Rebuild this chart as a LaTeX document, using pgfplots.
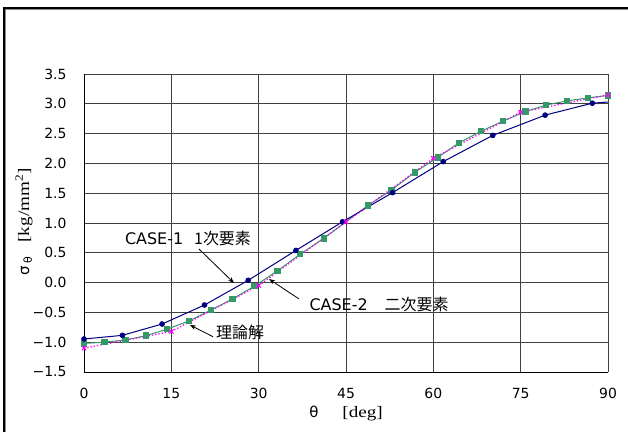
\documentclass[border=0pt]{standalone}
\usepackage{pgfplots}
\pgfplotsset{compat=1.18}
\usepackage{fontspec}
\setmainfont{DejaVu Sans}
\newfontfamily\jp{Noto Sans CJK JP}
\newfontfamily\mincho[FakeStretch=1.2]{Liberation Serif}
\usetikzlibrary{arrows.meta}
\definecolor{casenavy}{RGB}{0,0,128}
\definecolor{casegreen}{RGB}{51,153,102}
\definecolor{theomag}{RGB}{255,0,255}
\begin{document}
\begin{tikzpicture}[x=1bp,y=1bp]
\useasboundingbox (0,0) rectangle (628,432);
\fill[white] (0,0) rectangle (628,432);
\draw[black!45, line width=1.2bp] (5.5,0) -- (5.5,422.5) -- (628,422.5);
\draw[black, line width=1.2bp] (4,0) -- (4,424) -- (628,424);
\begin{axis}[
  at={(84bp,60bp)}, anchor=south west,
  scale only axis, width=524bp, height=298bp,
  xmin=0, xmax=90, ymin=-1.5, ymax=3.5,
  xtick={0,15,...,90}, ytick={-1.5,-1,...,3.5},
  yticklabels={−1.5,−1.0,−0.5,0.0,0.5,1.0,1.5,2.0,2.5,3.0,3.5},
  /pgf/number format/assume math mode=true,
  tick label style={font=\fontsize{14}{16}\selectfont},
  major tick length=0pt,
  xticklabel style={yshift=-13bp},
  yticklabel style={xshift=-14bp},
  grid=major,
  major grid style={black!75, line width=1bp},
  axis line style={black, line width=1bp},
  axis x line*=bottom, axis y line*=left,
  clip=false,
  xlabel={\fontsize{15}{17}\selectfont θ\hspace{24bp}{\mincho\fontsize{16}{18}\selectfont [deg]}},
  xlabel style={at={(rel axis cs:0.5,0)}, anchor=center, yshift=-41bp},
  ylabel={\fontsize{15}{17}\selectfont σ\raisebox{-0.35ex}{\fontsize{11}{12}\selectfont\hspace{3bp}θ}\hspace{14bp}{\mincho\fontsize{16}{18}\selectfont [kg/mm\textsuperscript{2}]}},
  ylabel style={at={(rel axis cs:0,0.5)}, anchor=center, yshift=60bp, xshift=1bp},
]
% CASE-2 (quadratic elements)
\addplot[casegreen, line width=1bp, mark=square*, mark size=2.7bp, mark options={solid, fill=casegreen}] coordinates {
(0,-1.02)(3.5,-1.00)(7.1,-0.963)(10.7,-0.89)(14.3,-0.78)(18,-0.645)(21.8,-0.46)
(25.5,-0.275)(29.3,-0.057)(33.2,0.195)(37.1,0.475)(41.2,0.743)(48.8,1.297)
(52.8,1.553)(56.8,1.85)(60.75,2.10)(64.4,2.345)(68.2,2.54)(72,2.71)(75.8,2.87)
(79.4,2.98)(83,3.05)(86.6,3.10)(90,3.14)
};
% CASE-1 (linear elements)
\addplot[casenavy, line width=1bp, mark=*, mark size=2.3bp, mark options={solid, fill=casenavy}] coordinates {
(0,-0.946)(6.6,-0.885)(13.4,-0.695)(20.7,-0.376)(28.2,0.038)(36.4,0.54)
(44.4,1.02)(53,1.51)(61.7,2.03)(70.2,2.47)(79.2,2.81)(87.3,3.01)
};
\addplot[casenavy, line width=1bp, no marks] coordinates {(87.3,3.01)(90,3.03)};
% theory
\addplot[theomag, line width=1.3bp, dotted, mark=x, mark size=3bp, mark options={solid, line width=1.1bp}] coordinates {
(0,-1.10)(15,-0.82)(30,-0.05)(45,1.02)(60,2.085)(75,2.86)(90,3.15)
};
% annotations
\node[font=\fontsize{16}{18}\selectfont, inner sep=0pt] at (axis cs:17.86,0.748) {CASE-1\hspace{11bp}{\jp 1次要素}};
\draw[-{Stealth[length=6bp,width=4.5bp]}, black, line width=0.8bp] (axis cs:19.75,0.564) -- (axis cs:25.76,-0.007);
\node[font=\fontsize{16}{18}\selectfont, inner sep=0pt] at (axis cs:50.67,-0.36) {CASE-2\hspace{17bp}{\jp 二次要素}};
\draw[-{Stealth[length=6bp,width=4.5bp]}, black, line width=0.8bp] (axis cs:36.93,-0.274) -- (axis cs:31.78,0.06);
\node[font=\fontsize{16}{18}\selectfont\jp, inner sep=0pt] at (axis cs:26.8,-0.844) {理論解};
\draw[-{Stealth[length=6bp,width=4.5bp]}, black, line width=0.8bp] (axis cs:22.16,-0.908) -- (axis cs:18.2,-0.711);
\end{axis}
\end{tikzpicture}
\end{document}
